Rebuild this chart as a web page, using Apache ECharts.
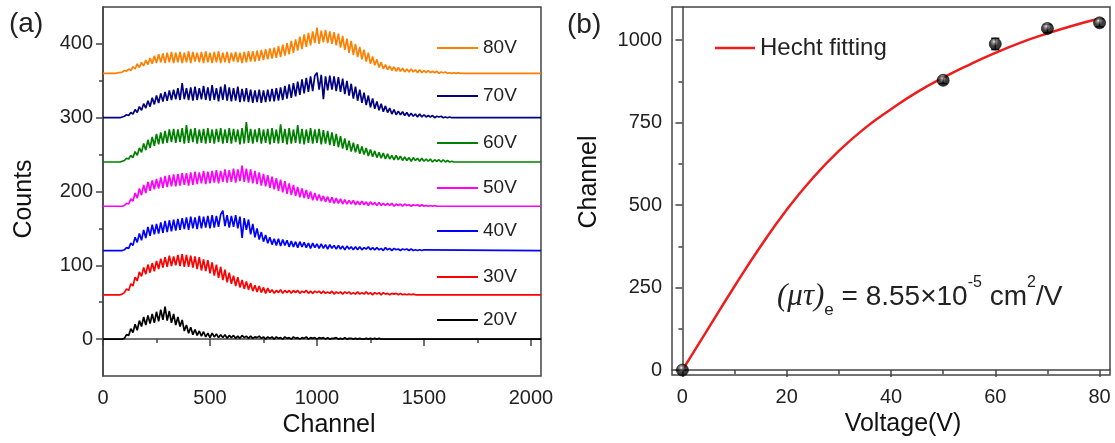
<!DOCTYPE html>
<html>
<head>
<meta charset="utf-8">
<script src="https://cdn.jsdelivr.net/npm/echarts@6/dist/echarts.min.js"></script>
<style>
  html, body { margin: 0; padding: 0; background: #fff; }
  #chart { width: 1115px; height: 443px; }
</style>
</head>
<body>
<div id="chart"></div>
<script>
// (a) pulse height spectra, net counts every 10 channels from the start channel
const spectraLabels = ['20V', '30V', '40V', '50V', '60V', '70V', '80V']
const spectraColors = ['#000000', '#ff0000', '#0000ff', '#ff00ff', '#008000', '#000080', '#ff8000']
const spectraOffsets = [0, 60, 120, 180, 240, 300, 360]
const spectraStart = [80, 80, 90, 90, 80, 80, 60]
const channelStep = 10
const channelMax = 2047

const counts20V = [
  0, 0, 1, 6, 5, 14, 9, 20, 12, 25,
  17, 30, 19, 32, 21, 34, 22, 37, 24, 40,
  26, 44, 25, 38, 22, 34, 19, 30, 17, 26,
  11, 19, 8, 16, 6, 13, 5, 11, 4, 10,
  3, 8, 2, 8, 3, 7, 2, 6, 2, 6,
  1, 5, 2, 5, 1, 4, 1, 5, 2, 4,
  1, 4, 1, 3, 2, 4, 1, 3, 0, 3,
  1, 3, 0, 3, 1, 2, 0, 3, 1, 2,
  0, 3, 1, 2, 0, 2, 1, 3, 0, 2,
  1, 2, 0, 2, 1, 2, 0, 2, 0, 1,
  1, 2, 0, 1, 0, 2, 0, 1, 1, 0,
  1, 0, 1, 0, 0, 1, 0, 1, 0, 1,
  0, 1, 0, 0
]
const counts30V = [
  0, 1, 3, 8, 6, 15, 12, 24, 19, 31,
  25, 37, 28, 41, 30, 43, 32, 46, 35, 49,
  37, 51, 38, 53, 39, 52, 40, 54, 39, 55,
  38, 54, 38, 53, 37, 52, 35, 51, 33, 48,
  32, 47, 29, 44, 26, 41, 23, 38, 20, 34,
  17, 30, 15, 26, 12, 24, 10, 20, 8, 18,
  7, 16, 5, 13, 4, 12, 3, 10, 2, 9,
  3, 7, 2, 6, 3, 7, 2, 6, 3, 6,
  2, 6, 3, 6, 2, 5, 3, 6, 2, 5,
  2, 5, 3, 5, 2, 5, 2, 4, 2, 5,
  1, 4, 2, 4, 1, 4, 2, 4, 1, 3,
  1, 4, 1, 3, 1, 4, 1, 3, 0, 3,
  1, 3, 0, 3, 1, 2, 0, 2, 1, 2,
  0, 2, 0, 1, 0, 1, 0, 1, 0, 0
]
const counts40V = [
  0, 1, 4, 3, 10, 7, 18, 11, 23, 14,
  28, 17, 32, 20, 35, 22, 36, 23, 38, 24,
  40, 25, 41, 26, 42, 27, 43, 28, 44, 29,
  45, 28, 46, 30, 45, 29, 47, 30, 46, 31,
  47, 30, 48, 31, 47, 32, 49, 54, 33, 48,
  31, 47, 32, 48, 30, 46, 17, 44, 28, 42,
  22, 36, 18, 30, 15, 25, 12, 21, 10, 18,
  8, 16, 7, 16, 6, 15, 7, 14, 5, 13,
  5, 12, 4, 12, 5, 11, 4, 10, 3, 10,
  4, 9, 3, 9, 3, 8, 2, 8, 3, 7,
  2, 7, 2, 6, 1, 6, 2, 5, 1, 5,
  1, 5, 1, 4, 2, 5, 1, 4, 1, 4,
  1, 3, 0, 4, 1, 3, 0, 3, 1, 2,
  0, 2, 1, 2, 0, 2, 0, 1, 0, 1,
  0, 1
]
const counts50V = [
  0, 1, 4, 3, 10, 7, 18, 11, 24, 15,
  29, 18, 33, 21, 35, 23, 37, 24, 39, 25,
  41, 26, 42, 27, 43, 27, 44, 28, 45, 29,
  45, 28, 46, 29, 47, 30, 46, 31, 48, 30,
  47, 31, 48, 32, 49, 31, 48, 33, 50, 32,
  49, 33, 51, 32, 50, 34, 55, 33, 51, 32,
  50, 31, 48, 30, 46, 28, 44, 27, 42, 25,
  40, 23, 38, 21, 36, 19, 34, 17, 31, 15,
  29, 14, 26, 12, 24, 11, 22, 10, 20, 8,
  18, 8, 16, 7, 14, 6, 13, 5, 12, 4,
  11, 4, 10, 3, 9, 3, 8, 3, 8, 2,
  7, 2, 7, 2, 6, 1, 6, 2, 5, 1,
  5, 1, 4, 1, 4, 1, 4, 0, 3, 1,
  3, 0, 3, 1, 2, 0, 2, 1, 2, 0,
  2, 0, 1, 0, 1, 0, 1, 0, 0
]
const counts60V = [
  0, 1, 2, 5, 4, 9, 6, 14, 9, 19,
  13, 25, 16, 30, 19, 34, 22, 38, 24, 40,
  25, 42, 26, 44, 27, 45, 26, 44, 27, 46,
  25, 50, 26, 45, 27, 46, 25, 44, 26, 45,
  25, 46, 26, 44, 25, 45, 27, 46, 25, 44,
  26, 46, 25, 45, 27, 44, 24, 46, 25, 54,
  26, 45, 25, 44, 27, 46, 25, 44, 26, 45,
  24, 46, 26, 44, 25, 51, 26, 45, 24, 46,
  25, 44, 26, 50, 25, 45, 24, 44, 26, 46,
  25, 44, 26, 45, 24, 43, 25, 42, 23, 40,
  22, 38, 20, 35, 18, 32, 16, 29, 14, 26,
  13, 24, 11, 21, 10, 19, 8, 17, 7, 15,
  6, 13, 5, 12, 4, 11, 4, 9, 3, 9,
  3, 8, 2, 7, 2, 6, 1, 6, 2, 5,
  1, 5, 1, 4, 1, 4, 0, 3, 1, 3,
  0, 3, 0, 2, 0, 1, 0
]
const counts70V = [
  0, 1, 2, 4, 3, 7, 5, 11, 7, 15,
  10, 19, 13, 23, 15, 27, 18, 30, 20, 33,
  22, 35, 23, 37, 24, 38, 25, 40, 24, 47,
  25, 40, 24, 41, 23, 42, 24, 40, 25, 43,
  24, 41, 23, 44, 24, 40, 22, 42, 24, 45,
  23, 41, 22, 40, 23, 42, 21, 39, 22, 40,
  21, 38, 20, 37, 21, 38, 20, 37, 21, 38,
  22, 39, 22, 40, 23, 41, 24, 43, 26, 45,
  27, 47, 29, 49, 31, 52, 33, 54, 35, 56,
  36, 57, 61, 38, 58, 25, 56, 37, 57, 38,
  56, 36, 55, 35, 53, 32, 50, 30, 46, 26,
  42, 23, 38, 20, 34, 17, 30, 14, 26, 12,
  22, 10, 19, 8, 16, 7, 13, 5, 11, 4,
  9, 4, 8, 3, 7, 2, 6, 2, 5, 1,
  5, 1, 4, 1, 3, 1, 3, 0, 2, 1,
  2, 0, 1, 0, 1, 0, 0
]
const counts80V = [
  0, 1, 1, 2, 4, 3, 6, 4, 9, 6,
  13, 8, 15, 10, 18, 12, 21, 13, 24, 14,
  26, 15, 27, 14, 28, 15, 29, 14, 28, 15,
  29, 14, 28, 15, 30, 14, 29, 16, 28, 15,
  29, 14, 30, 15, 28, 14, 29, 15, 30, 14,
  28, 15, 29, 14, 28, 16, 29, 15, 28, 14,
  29, 15, 30, 16, 30, 16, 31, 17, 32, 18,
  33, 19, 34, 20, 35, 21, 37, 22, 39, 24,
  41, 26, 44, 28, 46, 31, 50, 33, 53, 36,
  55, 38, 57, 41, 62, 40, 58, 42, 59, 41,
  57, 40, 56, 38, 54, 35, 51, 32, 47, 28,
  44, 25, 40, 22, 36, 19, 32, 16, 28, 13,
  23, 11, 19, 8, 15, 6, 12, 5, 10, 4,
  9, 3, 8, 3, 7, 2, 6, 2, 6, 2,
  5, 1, 5, 1, 4, 1, 4, 1, 3, 1,
  3, 0, 2, 1, 2, 0, 1, 0, 1, 0,
  1, 0, 0, 0
]
const spectraCounts = [counts20V, counts30V, counts40V, counts50V, counts60V, counts70V, counts80V]

// (b) peak channel vs bias voltage and the Hecht fit
const voltage = [0, 50, 60, 70, 80]
const peakChannel = [0, 878, 988, 1035, 1052]
const peakError = [0, 10, 17, 12, 12]
const fitVoltage = [0, 5, 10, 15, 20, 25, 30, 35, 40, 45, 50, 55, 60, 65, 70, 75, 80]
const fitChannel = [0, 127, 254, 375, 486, 582, 664, 733, 790, 842, 886, 925, 961, 993, 1020, 1044, 1065]

const font = 'Liberation Sans, Arial, sans-serif'
const axisColor = '#444444'

function buildSpectrum(i) {
  let pts = [[0, spectraOffsets[i]]]
  spectraCounts[i].forEach((c, k) => {
    pts.push([spectraStart[i] + k * channelStep, spectraOffsets[i] + c])
  })
  pts.push([channelMax, spectraOffsets[i]])
  return pts
}

function mainAxis(grid, min, max, ticks, name, gap, isY, namePad) {
  return {
    type: 'value', gridIndex: grid, min: min, max: max,
    position: isY ? 'left' : 'bottom',
    name: name, nameLocation: 'middle', nameGap: gap,
    nameTextStyle: {fontFamily: font, fontSize: 25, color: '#111', padding: namePad},
    axisLine: {show: true, lineStyle: {color: axisColor, width: 1.5}},
    axisTick: {show: true, length: 7, customValues: ticks, lineStyle: {color: axisColor, width: 1.5}},
    axisLabel: {
      customValues: ticks, fontFamily: font, fontSize: 20, color: '#222', margin: isY ? 10 : 12,
      formatter: v => String(v)
    },
    splitLine: {show: false}
  }
}

function minorAxis(grid, min, max, ticks, isY) {
  return {
    type: 'value', gridIndex: grid, min: min, max: max,
    position: isY ? 'left' : 'bottom',
    axisLine: {show: false},
    axisTick: {show: true, length: 4, customValues: ticks, lineStyle: {color: axisColor, width: 1.5}},
    axisLabel: {show: false},
    splitLine: {show: false}
  }
}

const chart = echarts.init(document.getElementById('chart'))

let series = spectraLabels.map((name, i) => ({
  name: name,
  type: 'line',
  xAxisIndex: 0,
  yAxisIndex: 0,
  data: buildSpectrum(i),
  symbol: 'none',
  color: spectraColors[i],
  lineStyle: {width: 1.7},
  z: 3
}))

series.push({
  name: 'Hecht fitting',
  type: 'line',
  xAxisIndex: 2,
  yAxisIndex: 2,
  data: fitVoltage.map((v, i) => [v, fitChannel[i]]),
  smooth: true,
  symbol: 'none',
  color: '#ee1c1c',
  lineStyle: {width: 2.5},
  z: 3
})

series.push({
  name: 'error',
  type: 'custom',
  xAxisIndex: 2,
  yAxisIndex: 2,
  data: voltage.map((v, i) => [v, peakChannel[i], peakError[i]]),
  renderItem: function (params, api) {
    const x = api.value(0), y = api.value(1), e = api.value(2)
    const hi = api.coord([x, y + e])
    const lo = api.coord([x, y - e])
    const st = {stroke: '#000', lineWidth: 1.5}
    return {
      type: 'group',
      children: [
        {type: 'line', shape: {x1: hi[0], y1: hi[1], x2: lo[0], y2: lo[1]}, style: st},
        {type: 'line', shape: {x1: hi[0] - 4, y1: hi[1], x2: hi[0] + 4, y2: hi[1]}, style: st},
        {type: 'line', shape: {x1: lo[0] - 4, y1: lo[1], x2: lo[0] + 4, y2: lo[1]}, style: st}
      ]
    }
  },
  z: 4
})

series.push({
  name: 'data',
  type: 'scatter',
  xAxisIndex: 2,
  yAxisIndex: 2,
  data: voltage.map((v, i) => [v, peakChannel[i]]),
  symbolSize: 12,
  itemStyle: {
    color: {
      type: 'radial', x: 0.42, y: 0.32, r: 0.62,
      colorStops: [
        {offset: 0, color: '#f4f4f4'},
        {offset: 0.22, color: '#777777'},
        {offset: 0.55, color: '#111111'},
        {offset: 1, color: '#000000'}
      ]
    },
    borderColor: '#000',
    borderWidth: 0.8
  },
  z: 5
})

// one legend per spectrum so each label sits where the original put it
const legendCenters = {'80V': 48, '70V': 96, '60V': 143, '50V': 188, '40V': 231, '30V': 277, '20V': 320}
let legends = spectraLabels.map(name => ({
  data: [name],
  left: 437,
  top: legendCenters[name] - 10,
  icon: 'rect',
  itemWidth: 41,
  itemHeight: 2,
  itemGap: 0,
  padding: 0,
  textStyle: {fontFamily: font, fontSize: 19, lineHeight: 20, color: '#222', padding: [0, 0, 0, 0]}
}))
legends.push({
  data: ['Hecht fitting'],
  left: 715,
  top: 36,
  icon: 'rect',
  itemWidth: 40,
  itemHeight: 2.5,
  padding: 0,
  textStyle: {fontFamily: font, fontSize: 24, lineHeight: 24, color: '#222'}
})

chart.setOption({
  backgroundColor: '#ffffff',
  animation: false,
  grid: [
    {left: 103, right: 574, top: 7, bottom: 67, show: true, borderColor: axisColor, borderWidth: 1.5},
    {left: 672, right: 5, top: 7, bottom: 68, show: true, borderColor: axisColor, borderWidth: 1.5}
  ],
  xAxis: [
    mainAxis(0, 0, channelMax, [0, 500, 1000, 1500, 2000], 'Channel', 36, false, [0, 0, 0, 14]),
    minorAxis(0, 0, channelMax, [250, 750, 1250, 1750], false),
    mainAxis(1, -2, 82, [0, 20, 40, 60, 80], 'Voltage(V)', 36, false, [0, 0, 0, 24]),
    minorAxis(1, -2, 82, [10, 30, 50, 70], false)
  ],
  yAxis: [
    mainAxis(0, -50, 450, [0, 100, 200, 300, 400], 'Counts', 66, true, [0, 15, 0, 0]),
    minorAxis(0, -50, 450, [50, 150, 250, 350], true),
    mainAxis(1, -15, 1100, [0, 250, 500, 750, 1000], 'Channel', 70, true, [0, 0, 0, 18]),
    minorAxis(1, -15, 1100, [125, 375, 625, 875], true)
  ],
  legend: legends,
  graphic: [
    {type: 'text', left: 9, top: 10, style: {text: '(a)', font: '28px ' + font, fill: '#222'}},
    {type: 'text', left: 567, top: 11, style: {text: '(b)', font: '28px ' + font, fill: '#222'}},
    {
      type: 'text', left: 777, top: 275,
      style: {
        text: '{it|(μτ)}{sub|e}{n| = 8.55×10}{sup|-5}{n| cm}{sup|2}{n|/V}',
        fill: '#222',
        rich: {
          it: {fontFamily: 'Liberation Serif, Times New Roman, serif', fontStyle: 'italic', fontSize: 31, lineHeight: 44, verticalAlign: 'middle'},
          n: {fontFamily: font, fontSize: 28, lineHeight: 44, verticalAlign: 'middle'},
          sup: {fontFamily: font, fontSize: 16, lineHeight: 19, verticalAlign: 'top'},
          sub: {fontFamily: font, fontSize: 17, lineHeight: 18, verticalAlign: 'bottom'}
        }
      }
    }
  ],
  series: series
})
</script>
</body>
</html>
